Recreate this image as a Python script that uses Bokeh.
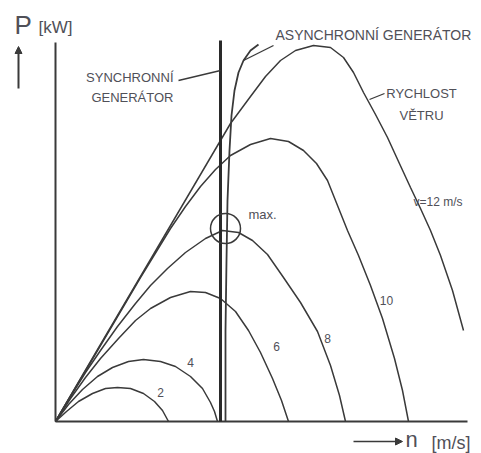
from bokeh.plotting import figure
from bokeh.models import Range1d, Arrow, NormalHead
from bokeh.core.properties import value
from bokeh.embed import file_html
from bokeh.resources import INLINE

# ---- data (rotor speed n, power P in arbitrary schematic units) ----
wind_speeds = [2, 4, 6, 8, 10, 12]

n_v2 = [0, 1.1, 2.3, 3.7, 5.0, 6.2, 7.5, 8.8, 9.9, 10.7, 11.3]
p_v2 = [0, 1.0, 2.0, 2.8, 3.3, 3.4, 3.3, 2.8, 2.0, 1.1, 0]

n_v4 = [0, 1.3, 2.7, 4.2, 5.7, 7.3, 8.8, 10.5, 12.0, 13.5, 14.7, 15.5, 15.9, 16.2]
p_v4 = [0, 1.7, 3.2, 4.5, 5.4, 6.0, 6.2, 6.0, 5.5, 4.5, 3.3, 1.9, 1.0, 0]

n_v6 = [0, 1.5, 3.0, 4.5, 6.3, 8.0, 9.5, 11.5, 13.5, 15.0, 16.5, 18.0, 19.3, 20.5, 21.7, 22.6, 23.3]
p_v6 = [0, 2.3, 4.4, 6.3, 8.3, 10.1, 11.3, 12.4, 13.0, 12.9, 12.3, 11.0, 9.1, 6.9, 4.3, 2.1, 0]

n_v8 = [0, 1.5, 3.0, 4.5, 6.2, 8.0, 9.5, 11.2, 13.0, 15.0, 16.7, 18.3, 19.7, 21.2, 22.8, 24.5, 26.2, 27.5, 28.4, 29.0]
p_v8 = [0, 2.5, 4.9, 7.1, 9.5, 11.8, 13.6, 15.3, 16.9, 18.3, 19.1, 18.9, 18.1, 16.7, 14.4, 11.9, 9.0, 5.6, 2.6, 0]

n_v10 = [0, 4.5, 8.5, 11.5, 13.0, 14.5, 16.0, 17.5, 19.5, 21.5, 23.3, 24.8, 26.1, 27.2, 28.2, 29.2, 30.3, 31.5, 32.7, 33.9, 34.7, 35.3]
p_v10 = [0, 7.6, 14.4, 19.3, 21.5, 23.5, 25.2, 26.6, 27.7, 28.3, 28.0, 27.1, 25.8, 24.1, 21.6, 19.1, 16.6, 13.6, 10.3, 6.3, 3.1, 0]

n_v12 = [0, 4.5, 8.5, 12.5, 15.5, 17.5, 19.5, 21.0, 22.5, 24.0, 25.8, 27.5, 28.8, 29.8, 30.8, 32.0, 33.2, 34.3, 35.5, 36.5, 37.5, 38.5, 39.7, 40.8]
p_v12 = [0, 7.7, 14.5, 21.3, 26.4, 29.8, 32.5, 34.5, 36.1, 37.1, 37.6, 37.4, 36.4, 34.9, 32.9, 30.7, 28.4, 26.0, 23.4, 21.3, 19.1, 16.6, 13.1, 9.1]

curves_n = [n_v2, n_v4, n_v6, n_v8, n_v10, n_v12]
curves_p = [p_v2, p_v4, p_v6, p_v8, p_v10, p_v12]

# synchronous generator: constant speed
sync_n = [16.5, 16.5]
sync_p = [0, 38.1]

# asynchronous generator characteristic
async_n = [17.0, 17.0, 17.1, 17.2, 17.4, 17.6, 17.9, 18.3, 18.8, 19.5, 20.3]
async_p = [0, 9.1, 16.1, 22.1, 27.1, 30.6, 33.1, 34.9, 36.1, 37.1, 37.7]

# maximum point (v = 8 m/s)
max_n = [17.0]
max_p = [19.3]

# curve labels
label_text = ["2", "4", "6", "8", "10"]
label_n = [10.5, 13.5, 22.1, 27.2, 33.1]
label_p = [2.9, 5.9, 7.5, 8.3, 12.1]

axis_n_max = 41.2
axis_p_max = 37.9

INK = "#3a3a3a"
TXT = "#505058"
FONT = "Liberation Sans"

p = figure(width=481, height=453, output_backend="svg", toolbar_location=None,
           x_range=Range1d(-5.5, 42.6), y_range=Range1d(-3.2, 42.1),
           min_border=0, background_fill_color="white", border_fill_color="white")
p.axis.visible = False
p.grid.visible = False
p.outline_line_color = None

# axes
p.line([0, 0], [0, axis_p_max], line_color=INK, line_width=2)
p.line([0, axis_n_max], [0, 0], line_color=INK, line_width=2)

# wind-speed curves
for xs, ys in zip(curves_n, curves_p):
    p.line(xs, ys, line_color=INK, line_width=1.5)

# generators
p.line(sync_n, sync_p, line_color="#2a2a2a", line_width=3)
p.line(async_n, async_p, line_color=INK, line_width=1.8)

# max circle
p.circle(max_n, max_p, radius=1.5, fill_color=None, line_color=INK, line_width=1.5)

# curve labels
p.text(label_n, label_p, text=label_text, text_font=value(FONT), text_font_size="12px",
       text_color=TXT, text_align="center", text_baseline="middle")

# leaders
p.line([12.3, 16.5], [34.1, 35.1], line_color=INK, line_width=1.3)
p.line([21.8, 18.8], [37.6, 36.1], line_color=INK, line_width=1.3)
p.line([31.4, 32.9], [32.2, 32.8], line_color=INK, line_width=1.3)

def txt(x, y, s, size, align="left", font=FONT):
    p.text([x], [y], text=[s], text_font=value(font), text_font_size=size,
           text_color=TXT, text_align=align, text_baseline="middle")

txt(11.8, 34.4, "SYNCHRONNÍ", "13px", "right")
txt(11.8, 32.4, "GENERÁTOR", "13px", "right")
txt(22.0, 38.7, "ASYNCHRONNÍ GENERÁTOR", "14px")
txt(36.6, 32.8, "RYCHLOST", "13px", "center")
txt(36.6, 30.6, "VĚTRU", "13px", "center")
txt(19.3, 20.7, "max.", "13px")
txt(35.8, 21.95, "v=12 m/s", "12px")

# axis titles
txt(-4.1, 39.7, "P", "26px")
txt(-1.7, 39.4, "[kW]", "17px")
txt(35.0, -1.8, "n", "22px")
txt(37.6, -2.1, "[m/s]", "18px")

p.add_layout(Arrow(end=NormalHead(size=7, fill_color=INK, line_color=INK),
                   x_start=-3.7, y_start=33.3, x_end=-3.7, y_end=37.5,
                   line_color=INK, line_width=2))
p.add_layout(Arrow(end=NormalHead(size=7, fill_color=INK, line_color=INK),
                   x_start=29.8, y_start=-2.0, x_end=34.7, y_end=-2.0,
                   line_color=INK, line_width=1.5))

open("out.html", "w").write(file_html(p, INLINE))
